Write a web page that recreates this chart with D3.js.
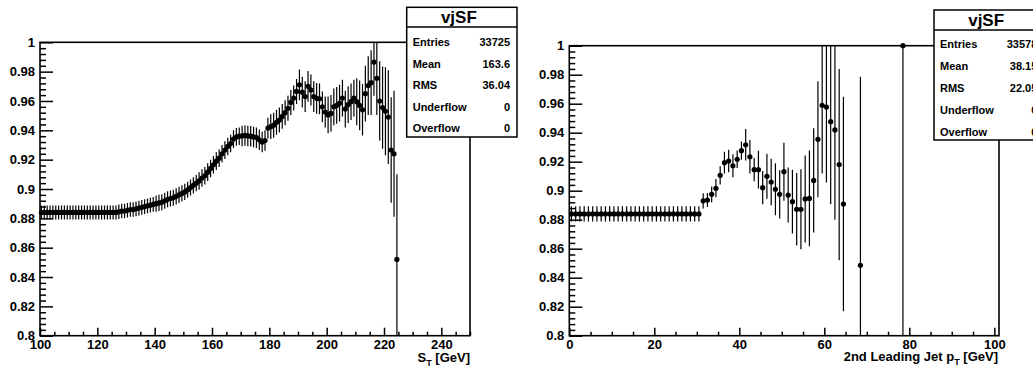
<!DOCTYPE html>
<html>
<head>
<meta charset="utf-8">
<script src="https://cdn.jsdelivr.net/npm/d3@7"></script>
<style>
  html, body { margin: 0; padding: 0; background: #fff; }
  svg { display: block; font-family: "Liberation Sans", Arial, Helvetica, sans-serif; font-weight: bold; }
</style>
</head>
<body>
<script>
// ---------------- DATA ----------------
// Left panel: vjSF vs S_T, 1 GeV bins starting at 100 GeV
const stBinStart = 100;
const stBinWidth = 1;
const stValues = [
  0.884,0.884,0.884,0.884,0.884,0.884,0.884,0.884,0.884,0.884,
  0.884,0.884,0.884,0.884,0.884,0.884,0.884,0.884,0.884,0.884,
  0.884,0.884,0.884,0.884,0.884,0.884,0.884,
  0.8845,0.885,0.885,0.8855,0.886,0.886,0.8865,0.887,0.8875,0.888,
  0.8885,0.889,0.8895,0.890,0.8905,0.891,0.892,0.893,0.8935,0.894,
  0.895,0.896,0.897,0.898,0.8995,0.901,0.9025,0.904,0.9055,0.9075,
  0.909,0.9115,0.914,0.9165,0.919,0.921,0.924,0.9265,0.929,0.931,
  0.934,0.9355,0.936,0.9362,0.9365,0.9362,0.936,0.9355,0.935,0.9335,
  0.932,0.933,0.9415,0.9425,0.9435,0.9455,0.947,0.9495,0.952,0.955,
  0.959,0.962,0.9665,0.971,0.966,0.963,0.970,0.9675,0.963,0.9618,
  0.9615,0.956,0.9525,0.9505,0.9515,0.956,0.957,0.9585,0.962,0.9545,
  0.9575,0.9595,0.962,0.9595,0.957,0.954,0.965,0.9705,0.9725,0.9865,
  0.9755,0.960,0.9555,0.953,0.949,0.9266,0.924,0.852
];
const stErrors = [
  0.0048,0.0048,0.0048,0.0048,0.0048,0.0048,0.0048,0.0048,0.0048,0.0048,
  0.0048,0.0048,0.0048,0.0048,0.0048,0.0048,0.0048,0.0048,0.0048,0.0048,
  0.0048,0.0048,0.0048,0.0048,0.0048,0.0048,0.0048,
  0.005,0.005,0.005,0.005,0.005,0.005,0.005,0.005,0.005,0.005,0.005,0.005,0.005,
  0.0055,0.0055,0.0055,0.0055,0.0055,0.0055,0.0055,0.0055,0.0055,0.0055,0.0055,0.0055,0.0055,0.0055,0.0055,
  0.006,0.006,0.006,0.006,0.006,0.006,0.006,0.006,0.006,0.006,0.006,0.006,0.006,0.006,0.006,
  0.007,0.007,0.007,0.007,0.007,0.007,0.007,0.007,0.007,0.007,
  0.0085,0.0085,0.0085,0.0085,0.0085,0.0085,0.0085,0.0085,0.0085,0.0085,
  0.0105,0.0105,0.0105,0.0105,0.0105,0.0105,0.0105,0.0105,0.0105,0.0105,
  0.0125,0.0125,0.0125,0.0125,0.0125,0.0125,0.0125,0.0125,0.0125,0.0125,
  0.016,0.017,0.0176,0.019,0.02,
  0.022,0.023,0.025,0.027,0.028,0.03,0.032,
  0.036,0.043,0.058
];

// Right panel: vjSF vs 2nd leading jet pT, 1 GeV bins (only filled bins listed)
const ptBinWidth = 1;
const ptCenters = [
  0.5,1.5,2.5,3.5,4.5,5.5,6.5,7.5,8.5,9.5,10.5,11.5,12.5,13.5,14.5,15.5,
  16.5,17.5,18.5,19.5,20.5,21.5,22.5,23.5,24.5,25.5,26.5,27.5,28.5,29.5,30.5,
  31.5,32.5,33.5,34.5,35.5,36.5,37.5,38.5,39.5,40.5,41.5,42.5,43.5,44.5,
  45.5,46.5,47.5,48.5,49.5,50.5,51.5,52.5,53.5,54.5,55.5,56.5,57.5,58.5,
  59.5,60.5,61.5,62.5,63.5,64.5,68.5,78.5
];
const ptValues = [
  0.884,0.884,0.884,0.884,0.884,0.884,0.884,0.884,0.884,0.884,0.884,0.884,0.884,0.884,0.884,0.884,
  0.884,0.884,0.884,0.884,0.884,0.884,0.884,0.884,0.884,0.884,0.884,0.884,0.884,0.884,0.884,
  0.893,0.8936,0.8975,0.9017,0.9106,0.9193,0.9205,0.9172,0.9217,0.9276,0.9317,0.9234,0.9145,0.9145,
  0.9021,0.9099,0.906,0.901,0.8975,0.9131,0.897,0.8924,0.8872,0.8872,0.8943,0.8947,0.9071,0.9354,
  0.9589,0.9577,0.9476,0.9419,0.918,0.8908,0.8486,1.0
];
const ptErrors = [
  0.0053,0.0053,0.0053,0.0053,0.0053,0.0053,0.0053,0.0053,0.0053,0.0053,0.0053,0.0053,0.0053,0.0053,0.0053,0.0053,
  0.0053,0.0053,0.0053,0.0053,0.0053,0.0053,0.0053,0.0053,0.0053,0.0053,0.0053,0.0053,0.0053,0.0053,0.0053,
  0.0052,0.0048,0.0054,0.0063,0.0063,0.0075,0.0077,0.008,0.006,0.0063,0.0108,0.0115,0.008,0.013,
  0.0115,0.0155,0.016,0.018,0.0166,0.02,0.019,0.022,0.025,0.0276,0.03,0.033,0.036,0.04,
  0.047,0.052,0.057,0.062,0.066,0.074,0.13,1.0
];

// Axis tick labels
const stTickLabels = ["100","120","140","160","180","200","220","240"];
const ptTickLabels = ["0","20","40","60","80","100"];
const yTickLabels  = ["0.8","0.82","0.84","0.86","0.88","0.9","0.92","0.94","0.96","0.98","1"];

// Stats boxes
const statNames = ["Entries","Mean","RMS","Underflow","Overflow"];
const stStats = ["33725","163.6","36.04","0","0"];
const ptStats = ["33578","38.15","22.05","0","0"];
const statTitle = "vjSF";

// ---------------- DRAWING ----------------
const W = 1033, H = 368;
const svg = d3.select("body").append("svg").attr("width", W).attr("height", H);

function drawPanel(cfg) {
  const g = svg.append("g");
  const x = d3.scaleLinear().domain(cfg.xDomain).range([cfg.left, cfg.xRight]);
  const y = d3.scaleLinear().domain([0.8, 1.0]).range([cfg.bottom, cfg.top]);

  const clipId = "clip-" + cfg.id;
  svg.append("clipPath").attr("id", clipId).append("rect")
    .attr("x", cfg.left).attr("y", cfg.top)
    .attr("width", cfg.frameRight - cfg.left).attr("height", cfg.bottom - cfg.top);

  // frame
  g.append("rect").attr("x", cfg.left).attr("y", cfg.top)
    .attr("width", cfg.frameRight - cfg.left).attr("height", cfg.bottom - cfg.top)
    .attr("fill", "none").attr("stroke", "#000").attr("stroke-width", 1.6);

  // x axis: major + minor ticks (inside)
  const xMajor = cfg.xTickLabels.map(Number);
  const xMinor = d3.range(cfg.xDomain[0], cfg.xMaxTick + 0.001, cfg.xMinorStep)
    .filter(v => !xMajor.includes(v) && x(v) <= cfg.frameRight + 0.5);
  const xAxisMinor = d3.axisBottom(x).tickValues(xMinor).tickSize(-4).tickSizeOuter(0).tickFormat("");
  const xAxisMajor = d3.axisBottom(x).tickValues(xMajor).tickSizeInner(-8).tickSizeOuter(0).tickPadding(4)
    .tickFormat((d, i) => cfg.xTickLabels[i]);
  const gxm = g.append("g").attr("transform", `translate(0,${cfg.bottom})`).call(xAxisMinor);
  const gx = g.append("g").attr("transform", `translate(0,${cfg.bottom})`).call(xAxisMajor);
  [gxm, gx].forEach(a => {
    a.select(".domain").remove();
    a.selectAll("line").attr("stroke", "#000").attr("stroke-width", 1.5);
  });
  gx.selectAll("text").attr("font-size", 13).attr("font-weight", "bold").attr("fill", "#000")
    .attr("font-family", '"Liberation Sans", Arial, sans-serif');

  // y axis
  const yMajor = yTickLabels.map(Number);
  const yMinor = d3.range(0, 51).map(i => 0.8 + i * 0.004)
    .filter(v => !yMajor.some(m => Math.abs(m - v) < 1e-6));
  const yAxisMinor = d3.axisLeft(y).tickValues(yMinor).tickSize(-6).tickSizeOuter(0).tickFormat("");
  const yAxisMajor = d3.axisLeft(y).tickValues(yMajor).tickSizeInner(-13).tickSizeOuter(0).tickPadding(5)
    .tickFormat((d, i) => yTickLabels[i]);
  const gym = g.append("g").attr("transform", `translate(${cfg.left},0)`).call(yAxisMinor);
  const gy = g.append("g").attr("transform", `translate(${cfg.left},0)`).call(yAxisMajor);
  [gym, gy].forEach(a => {
    a.select(".domain").remove();
    a.selectAll("line").attr("stroke", "#000").attr("stroke-width", 1.5);
  });
  gy.selectAll("text").attr("font-size", 13).attr("font-weight", "bold").attr("fill", "#000")
    .attr("font-family", '"Liberation Sans", Arial, sans-serif');

  // axis title
  const t = g.append("text").attr("x", cfg.titleRight).attr("y", cfg.titleBaseline)
    .attr("text-anchor", "end").attr("font-size", 13).attr("font-weight", "bold");
  t.append("tspan").text(cfg.titleMain);
  t.append("tspan").attr("font-size", 9).attr("dy", 4).text("T");
  t.append("tspan").attr("dy", -4).text(" [GeV]");

  // data
  const pts = cfg.centers.map((c, i) => ({ c, v: cfg.values[i], e: cfg.errors[i] }));
  const eg = g.append("g").attr("clip-path", `url(#${clipId})`);
  eg.selectAll("line.ev").data(pts).join("line").attr("class", "ev")
    .attr("x1", d => x(d.c)).attr("x2", d => x(d.c))
    .attr("y1", d => y(d.v - d.e)).attr("y2", d => y(d.v + d.e))
    .attr("stroke", "#000").attr("stroke-width", 1.2);
  eg.selectAll("line.eh").data(pts).join("line").attr("class", "eh")
    .attr("x1", d => x(d.c - cfg.binWidth / 2)).attr("x2", d => x(d.c + cfg.binWidth / 2))
    .attr("y1", d => y(d.v)).attr("y2", d => y(d.v))
    .attr("stroke", "#000").attr("stroke-width", 1.2);
  g.append("g").selectAll("circle").data(pts).join("circle")
    .attr("cx", d => x(d.c)).attr("cy", d => y(d.v)).attr("r", 2.6).attr("fill", "#000");

  // stats box
  const b = cfg.box;
  const sb = svg.append("g");
  sb.append("rect").attr("x", b.x).attr("y", b.y).attr("width", b.w).attr("height", b.h)
    .attr("fill", "#fff").attr("stroke", "#000").attr("stroke-width", 1.5);
  sb.append("line").attr("x1", b.x).attr("x2", b.x + b.w).attr("y1", b.sep).attr("y2", b.sep)
    .attr("stroke", "#000").attr("stroke-width", 1.5);
  sb.append("text").attr("x", b.x + b.w / 2 - 3).attr("y", b.sep - 4).attr("text-anchor", "middle")
    .attr("font-size", 17).attr("font-weight", "bold").text(statTitle);
  statNames.forEach((n, i) => {
    const yy = b.row0 + i * b.rowStep;
    sb.append("text").attr("x", b.x + 6).attr("y", yy).attr("font-size", 11).text(n);
    sb.append("text").attr("x", b.x + b.w - 7).attr("y", yy).attr("text-anchor", "end")
      .attr("font-size", 11).text(cfg.stats[i]);
  });
}

drawPanel({
  id: "st", left: 40, xRight: 470, frameRight: 470, top: 42.3, bottom: 335.7,
  xDomain: [100, 250], xMaxTick: 250, xMinorStep: 5, xTickLabels: stTickLabels,
  centers: stValues.map((v, i) => stBinStart + (i + 0.5) * stBinWidth),
  values: stValues, errors: stErrors, binWidth: stBinWidth,
  titleMain: "S", titleRight: 470, titleBaseline: 362,
  stats: stStats,
  box: { x: 406.7, y: 7.3, w: 110.3, h: 129.7, sep: 27, row0: 46, rowStep: 21.5 }
});

drawPanel({
  id: "pt", left: 569.3, xRight: 994.3, frameRight: 999, top: 45.7, bottom: 335.7,
  xDomain: [0, 100], xMaxTick: 100, xMinorStep: 5, xTickLabels: ptTickLabels,
  centers: ptCenters, values: ptValues, errors: ptErrors, binWidth: ptBinWidth,
  titleMain: "2nd Leading Jet p", titleRight: 998, titleBaseline: 361,
  stats: ptStats,
  box: { x: 934, y: 10, w: 110.3, h: 130, sep: 30, row0: 47.5, rowStep: 22 }
});
</script>
</body>
</html>
